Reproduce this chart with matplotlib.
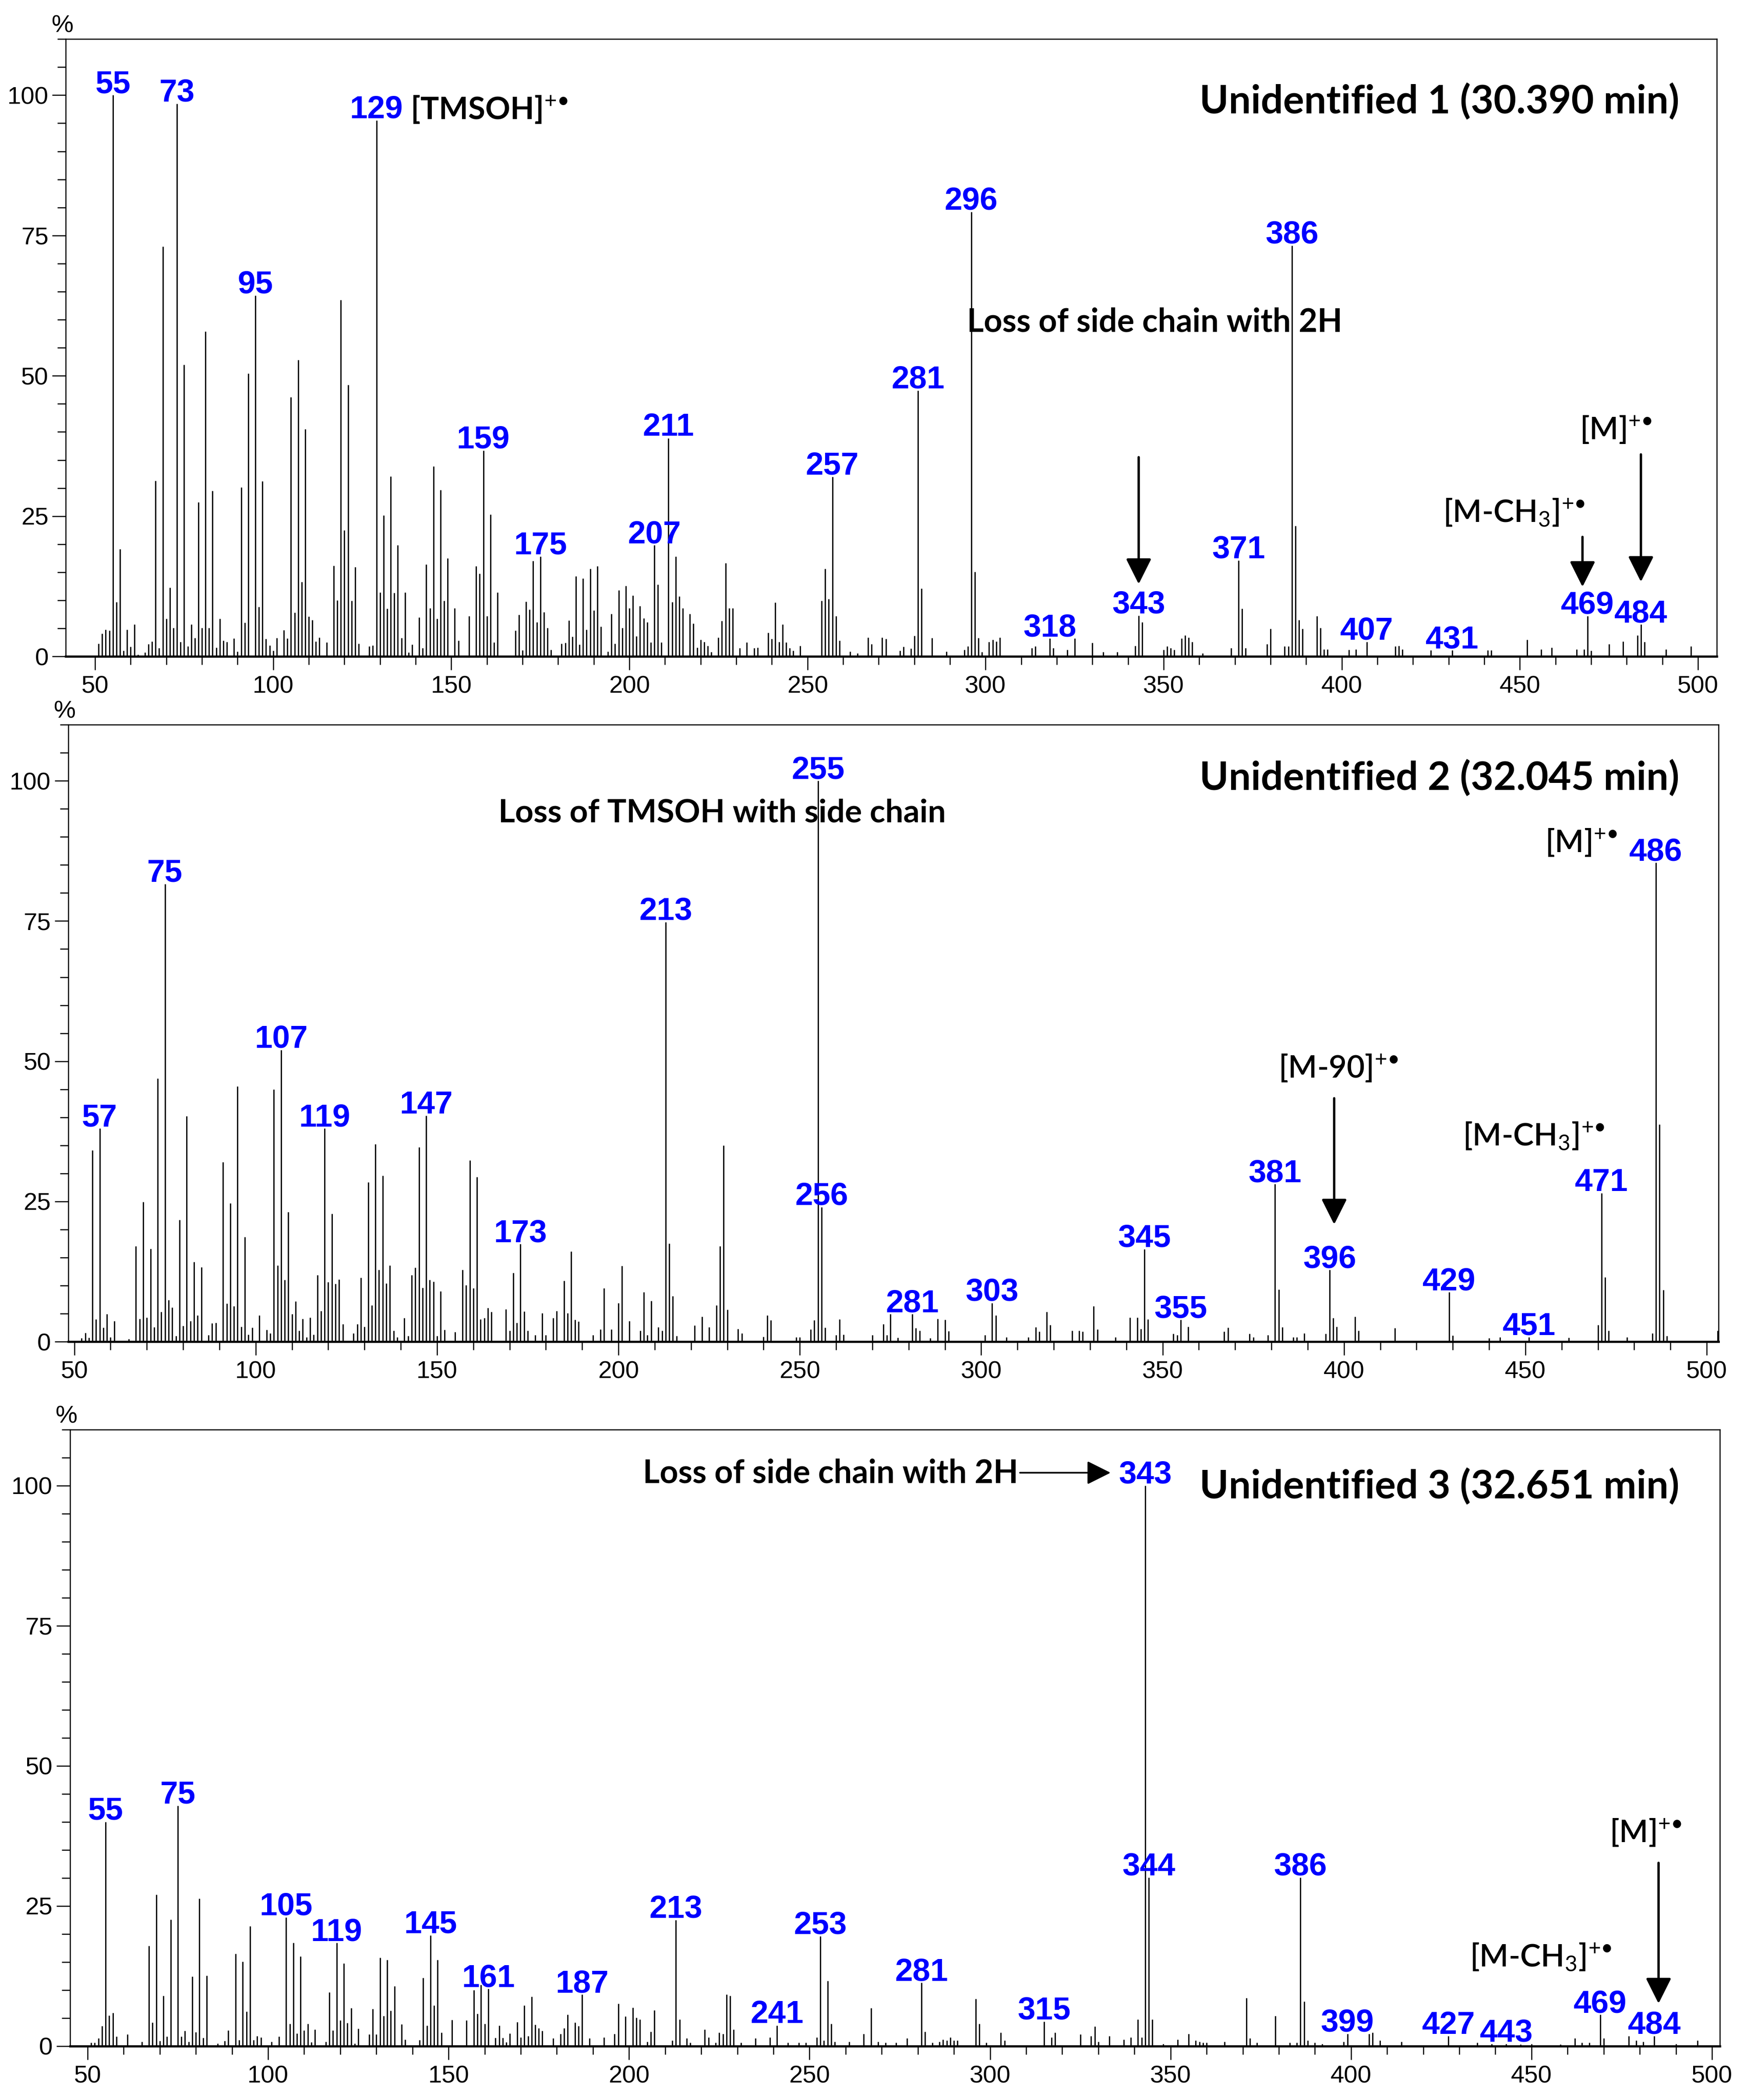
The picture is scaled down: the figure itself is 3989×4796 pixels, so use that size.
import matplotlib
matplotlib.use('Agg')
import matplotlib.pyplot as plt
from matplotlib.ticker import MultipleLocator

plt.rcParams['font.family'] = ['Liberation Sans', 'DejaVu Sans']
plt.rcParams['mathtext.fontset'] = 'custom'
plt.rcParams['mathtext.rm'] = 'Lato'
plt.rcParams['mathtext.it'] = 'Lato:italic'
plt.rcParams['mathtext.bf'] = 'Lato:bold'

# ---- Unidentified 1 (30.390 min) ----
mz1 = [51, 52, 53, 54, 55, 56, 57, 58, 59, 60,
       61, 62, 64, 65, 66, 67, 68, 69, 70, 71,
       72, 73, 74, 75, 76, 77, 78, 79, 80, 81,
       82, 83, 84, 85, 86, 87, 89, 90, 91, 92,
       93, 95, 96, 97, 98, 99, 100, 101, 103, 104,
       105, 106, 107, 108, 109, 110, 111, 112, 113, 115,
       117, 118, 119, 120, 121, 122, 123, 124, 127, 128,
       129, 130, 131, 132, 133, 134, 135, 136, 137, 138,
       139, 141, 142, 143, 144, 145, 146, 147, 148, 149,
       151, 152, 155, 157, 158, 159, 160, 161, 162, 163,
       168, 169, 170, 171, 172, 173, 174, 175, 176, 177,
       178, 181, 182, 183, 184, 185, 186, 187, 188, 189,
       190, 191, 192, 194, 195, 196, 197, 198, 199, 200,
       201, 202, 203, 204, 205, 206, 207, 208, 209, 211,
       212, 213, 214, 215, 217, 218, 219, 220, 221, 222,
       223, 225, 226, 227, 228, 229, 231, 233, 235, 236,
       239, 240, 241, 242, 243, 244, 245, 246, 248, 254,
       255, 256, 257, 258, 259, 262, 264, 267, 268, 271,
       272, 276, 277, 279, 280, 281, 282, 285, 289, 294,
       295, 296, 297, 298, 299, 301, 302, 303, 304, 313,
       314, 318, 319, 323, 325, 330, 333, 337, 342, 343,
       344, 350, 351, 352, 353, 355, 356, 357, 358, 361,
       369, 371, 372, 373, 379, 380, 384, 385, 386, 387,
       388, 389, 393, 394, 395, 396, 402, 404, 407, 415,
       416, 417, 425, 431, 441, 442, 452, 456, 459, 466,
       468, 469, 470, 475, 479, 483, 484, 485, 491, 498]
ab1 = [2.3, 4.1, 4.8, 4.6, 100, 9.7, 19.1, 1.0, 4.8, 1.7,
       5.7, 0.3, 0.7, 2.2, 2.7, 31.3, 1.5, 73.0, 6.7, 12.3,
       5.1, 98.5, 2.6, 52.0, 1.8, 5.7, 3.3, 27.5, 5.1, 57.9,
       5.1, 29.5, 1.6, 6.7, 2.8, 2.6, 3.2, 0.9, 30.1, 6.0,
       50.4, 64.3, 8.8, 31.2, 3.1, 2.0, 1.0, 3.3, 4.7, 3.2,
       46.2, 7.8, 52.8, 13.3, 40.5, 7.1, 6.5, 2.7, 3.4, 2.5,
       16.2, 10.0, 63.5, 22.5, 48.4, 9.9, 15.9, 2.3, 1.8, 2.0,
       95.5, 11.4, 25.1, 8.5, 32.1, 11.3, 19.8, 3.3, 11.4, 0.7,
       2.1, 7.0, 1.5, 16.4, 8.6, 33.9, 6.7, 29.7, 9.9, 17.5,
       8.6, 2.8, 7.2, 16.1, 14.8, 36.7, 7.2, 25.3, 2.5, 11.4,
       4.6, 7.4, 1.1, 9.8, 8.4, 17.0, 6.1, 17.8, 7.9, 5.1,
       1.2, 2.3, 2.4, 6.4, 3.5, 14.3, 2.1, 13.9, 4.8, 15.6,
       8.2, 16.1, 5.3, 0.9, 7.6, 2.3, 11.8, 5.1, 12.6, 8.6,
       10.9, 3.6, 9.0, 6.8, 6.1, 2.5, 19.8, 12.8, 2.5, 38.9,
       9.7, 17.8, 10.7, 8.6, 7.6, 5.9, 1.6, 3.0, 2.6, 1.9,
       0.8, 3.4, 6.3, 16.6, 8.6, 8.6, 1.5, 2.5, 1.5, 1.6,
       4.2, 3.1, 9.6, 2.6, 5.7, 2.5, 1.5, 1.0, 1.9, 9.9,
       15.6, 10.2, 32.0, 7.2, 2.8, 0.9, 0.6, 3.4, 2.2, 3.4,
       3.1, 1.0, 1.7, 1.4, 3.7, 47.4, 12.1, 3.3, 0.9, 1.2,
       1.8, 79.2, 15.1, 3.3, 0.8, 2.6, 3.0, 2.7, 3.4, 1.5,
       1.8, 3.2, 1.5, 1.2, 3.2, 2.4, 0.8, 0.8, 1.9, 7.3,
       6.1, 1.2, 1.8, 1.5, 1.2, 3.2, 3.8, 3.4, 2.6, 0.6,
       1.5, 17.1, 8.5, 1.5, 2.2, 4.9, 1.8, 1.8, 73.2, 23.3,
       6.5, 4.9, 7.2, 5.1, 1.3, 1.3, 1.2, 1.3, 2.6, 1.8,
       1.9, 1.3, 1.1, 1.1, 1.1, 1.1, 3.0, 1.3, 1.6, 1.3,
       1.3, 7.2, 1.0, 2.2, 2.7, 3.8, 5.7, 2.6, 1.3, 1.8]
lab1 = [55, 73, 95, 129, 159, 175, 207, 211, 257, 281, 296, 318,
        343, 371, 386, 407, 431, 469, 484]

# ---- Unidentified 2 (32.045 min) ----
mz2 = [52, 53, 54, 55, 56, 57, 58, 59, 60, 61,
       65, 67, 68, 69, 70, 71, 72, 73, 74, 75,
       76, 77, 78, 79, 80, 81, 82, 83, 84, 85,
       87, 88, 89, 91, 92, 93, 94, 95, 96, 97,
       98, 99, 101, 103, 104, 105, 106, 107, 108, 109,
       110, 111, 112, 113, 114, 115, 116, 117, 118, 119,
       120, 121, 122, 123, 124, 127, 128, 129, 130, 131,
       132, 133, 134, 135, 136, 137, 138, 139, 141, 142,
       143, 144, 145, 146, 147, 148, 149, 150, 151, 152,
       155, 157, 158, 159, 160, 161, 162, 163, 164, 165,
       169, 170, 171, 172, 173, 174, 175, 177, 179, 180,
       182, 183, 185, 186, 187, 188, 189, 193, 195, 196,
       198, 200, 201, 203, 206, 207, 208, 209, 211, 212,
       213, 214, 215, 216, 221, 223, 225, 227, 228, 229,
       230, 233, 234, 240, 241, 242, 249, 250, 253, 254,
       255, 256, 257, 260, 261, 262, 270, 273, 274, 275,
       277, 281, 282, 283, 286, 288, 290, 291, 301, 303,
       304, 307, 313, 315, 316, 318, 319, 325, 327, 328,
       331, 332, 337, 341, 343, 344, 345, 346, 353, 354,
       355, 357, 367, 368, 374, 375, 379, 381, 382, 383,
       386, 387, 389, 395, 396, 397, 398, 403, 404, 414,
       429, 430, 440, 443, 451, 462, 470, 471, 472, 473,
       478, 485, 486, 487, 488, 489, 503]
ab2 = [0.6, 1.6, 0.7, 34.1, 4.0, 38.0, 2.5, 4.9, 0.8, 3.7,
       0.5, 17.0, 4.1, 24.9, 4.3, 16.6, 2.6, 46.9, 5.3, 81.6,
       7.4, 6.1, 1.0, 21.7, 2.8, 40.2, 3.7, 14.2, 4.7, 13.3,
       1.2, 3.3, 3.4, 32.0, 6.8, 24.7, 6.3, 45.5, 2.7, 18.7,
       1.3, 2.5, 4.7, 2.1, 1.5, 45.0, 13.6, 52.0, 11.0, 23.1,
       4.9, 7.2, 2.0, 4.1, 0.8, 4.3, 1.3, 11.9, 5.5, 38.0,
       10.6, 22.8, 10.3, 11.1, 3.1, 1.5, 3.1, 11.4, 2.7, 28.4,
       6.5, 35.2, 12.8, 29.6, 10.4, 13.6, 2.0, 0.8, 4.2, 1.0,
       11.9, 13.2, 34.7, 9.6, 40.3, 11.0, 10.7, 1.0, 9.0, 2.1,
       1.7, 12.8, 10.1, 32.3, 9.5, 29.4, 4.0, 4.2, 6.0, 5.3,
       5.8, 2.0, 12.3, 3.4, 17.4, 5.4, 2.0, 1.2, 5.1, 1.2,
       4.2, 5.5, 10.9, 5.1, 16.1, 3.9, 3.6, 1.2, 2.2, 9.5,
       2.2, 6.9, 13.5, 3.7, 2.0, 8.8, 1.2, 7.3, 2.6, 2.0,
       74.8, 17.5, 8.1, 1.0, 2.9, 4.5, 2.6, 6.5, 17.0, 35.0,
       5.7, 2.3, 1.5, 0.9, 4.7, 3.8, 0.8, 0.8, 2.2, 3.8,
       100.0, 24.0, 2.5, 1.2, 4.0, 1.3, 1.2, 3.1, 1.2, 4.9,
       0.7, 4.9, 2.4, 2.0, 0.6, 4.1, 3.9, 1.9, 1.2, 6.9,
       4.7, 0.8, 0.8, 2.6, 1.8, 5.3, 3.0, 2.0, 2.0, 1.8,
       6.3, 2.2, 0.8, 4.3, 4.3, 2.3, 16.5, 4.0, 1.4, 1.2,
       3.9, 2.7, 1.8, 2.5, 1.4, 0.8, 1.2, 28.1, 9.3, 2.6,
       0.8, 0.8, 1.5, 1.4, 12.8, 4.2, 2.7, 4.5, 2.0, 2.4,
       8.8, 1.1, 0.6, 0.8, 0.8, 0.7, 3.0, 26.5, 11.5, 2.0,
       0.8, 1.5, 85.4, 38.7, 9.2, 1.0, 2.0]
lab2 = [57, 75, 107, 119, 147, 173, 213, 255, 256, 281, 303, 345,
        355, 381, 396, 429, 451, 471, 486]

# ---- Unidentified 3 (32.651 min) ----
mz3 = [51, 52, 53, 54, 55, 56, 57, 58, 61, 65,
       67, 68, 69, 70, 71, 72, 73, 75, 76, 77,
       78, 79, 80, 81, 82, 83, 86, 88, 89, 91,
       92, 93, 94, 95, 96, 97, 98, 101, 103, 105,
       106, 107, 108, 109, 110, 111, 112, 113, 116, 117,
       118, 119, 120, 121, 122, 123, 124, 125, 128, 129,
       130, 131, 132, 133, 134, 135, 137, 138, 142, 143,
       144, 145, 146, 147, 148, 151, 155, 157, 158, 159,
       160, 161, 163, 164, 165, 166, 167, 169, 170, 171,
       172, 173, 174, 175, 176, 179, 181, 182, 183, 185,
       186, 187, 189, 193, 196, 197, 199, 201, 202, 203,
       205, 206, 207, 212, 213, 214, 216, 217, 221, 222,
       224, 225, 226, 227, 228, 229, 231, 235, 239, 241,
       244, 247, 249, 252, 253, 254, 255, 256, 257, 261,
       265, 267, 269, 271, 274, 277, 281, 282, 284, 286,
       287, 288, 289, 290, 291, 296, 297, 299, 303, 304,
       315, 317, 318, 325, 328, 329, 330, 333, 337, 339,
       341, 342, 343, 344, 345, 348, 352, 355, 357, 358,
       359, 360, 365, 371, 372, 374, 379, 383, 385, 386,
       387, 388, 390, 392, 398, 399, 405, 406, 408, 414,
       427, 435, 439, 443, 447, 450, 458, 462, 464, 466,
       469, 470, 477, 479, 481, 484, 490, 496]
ab3 = [0.6, 0.6, 1.4, 3.6, 40.0, 5.5, 5.9, 1.7, 2.1, 0.8,
       17.9, 4.2, 27.0, 0.9, 9.0, 1.7, 22.6, 42.9, 1.7, 2.7,
       0.8, 12.4, 2.5, 26.3, 1.5, 12.6, 0.5, 0.9, 2.8, 16.5,
       1.1, 15.1, 6.2, 21.4, 1.1, 1.8, 1.6, 0.8, 1.7, 23.0,
       4.0, 18.4, 2.3, 16.0, 2.8, 4.0, 0.7, 3.0, 0.8, 9.6,
       2.8, 18.4, 4.6, 14.8, 4.1, 6.8, 0.5, 3.1, 2.1, 6.6,
       2.1, 15.8, 5.4, 15.4, 6.3, 10.7, 3.9, 1.2, 1.1, 12.2,
       3.7, 19.8, 7.3, 15.4, 2.4, 4.7, 4.6, 10.0, 5.8, 10.9,
       4.0, 10.2, 1.5, 3.7, 1.5, 0.7, 2.3, 4.3, 1.6, 7.3,
       1.8, 8.8, 3.8, 3.2, 2.7, 1.4, 2.2, 3.2, 5.6, 4.2,
       3.6, 9.2, 1.4, 1.6, 2.2, 7.6, 5.3, 6.9, 5.1, 4.8,
       0.8, 2.6, 6.4, 1.0, 22.5, 4.8, 1.4, 0.6, 3.0, 1.6,
       0.6, 2.4, 2.2, 9.2, 9.0, 3.0, 0.6, 1.4, 1.6, 3.7,
       0.6, 0.6, 0.6, 1.6, 19.6, 1.0, 11.6, 4.0, 0.8, 0.8,
       2.2, 6.8, 0.8, 0.6, 0.6, 1.4, 11.3, 2.6, 0.6, 0.8,
       1.2, 1.0, 1.6, 1.0, 1.0, 8.4, 4.0, 0.6, 2.4, 1.0,
       4.4, 1.6, 2.4, 2.1, 1.8, 3.5, 0.8, 1.8, 1.2, 1.6,
       4.8, 1.6, 100.0, 30.1, 4.8, 0.4, 1.2, 2.2, 1.0, 0.8,
       0.6, 0.6, 0.8, 8.6, 1.4, 0.6, 5.4, 0.6, 0.6, 30.1,
       8.0, 1.0, 0.6, 0.4, 0.8, 2.2, 2.2, 2.4, 1.0, 0.8,
       1.8, 0.6, 0.4, 0.4, 0.3, 0.4, 0.3, 1.4, 0.6, 0.6,
       5.6, 1.4, 1.8, 1.0, 0.8, 1.8, 0.4, 1.0]
lab3 = [55, 75, 105, 119, 145, 161, 187, 213, 241, 253, 281, 315,
        343, 344, 386, 399, 427, 443, 469, 484]

titles = ['Unidentified 1 (30.390 min)', 'Unidentified 2 (32.045 min)',
          'Unidentified 3 (32.651 min)']

BLUE = '#0000ff'
ANN = 'Lato'


def spectrum(ax, mz, ab, labels, xlim, title, tx, ty):
    ax.vlines(mz, 0, ab, colors='k', lw=0.7)
    for m in labels:
        h = ab[mz.index(m)]
        ax.text(m, h + 0.4, str(m), color=BLUE, fontsize=17.5, fontweight='bold',
                ha='center', va='baseline')
    ax.set_xlim(xlim)
    ax.set_ylim(0, 110)
    ax.xaxis.set_major_locator(MultipleLocator(50))
    ax.xaxis.set_minor_locator(MultipleLocator(10))
    ax.set_yticks([0, 25, 50, 75, 100])
    ax.yaxis.set_minor_locator(MultipleLocator(5))
    ax.tick_params(which='major', length=7.5, width=0.6, labelsize=13.5, pad=3)
    ax.tick_params(which='minor', length=4.5, width=0.6)
    ax.tick_params(axis='y', pad=2)
    for s in ax.spines.values():
        s.set_linewidth(0.6)
    ax.spines['bottom'].set_linewidth(1.2)
    ax.text(-0.002, 1.021, '%', transform=ax.transAxes, ha='center', va='center',
            fontsize=13.5)
    ax.text(tx, ty, title, transform=ax.get_yaxis_transform(), ha='right',
            va='baseline', fontsize=21.5, fontweight='bold', family=ANN)


def arrow(ax, x0, y0, x1, y1, lw=1.3, ms=30):
    ax.annotate('', xy=(x1, y1), xytext=(x0, y0),
                arrowprops=dict(arrowstyle='-|>', color='k', lw=lw,
                                mutation_scale=ms, shrinkA=0, shrinkB=0))


fig = plt.figure(figsize=(3989 / 300, 4796 / 300), dpi=300)
ax1 = fig.add_axes([0.0377, 0.6874, 0.9450, 0.2940])
ax2 = fig.add_axes([0.0390, 0.3611, 0.9446, 0.2938])
ax3 = fig.add_axes([0.0400, 0.02565, 0.9445, 0.2936])

spectrum(ax1, mz1, ab1, lab1, (41.8, 505.3), titles[0], 0.9774, 96.7)
spectrum(ax2, mz2, ab2, lab2, (48.3, 503.2), titles[1], 0.9764, 98.3)
spectrum(ax3, mz3, ab3, lab3, (45.1, 502.2), titles[2], 0.9755, 97.7)

# panel 1 annotations
ax1.text(138.5, 95.7, '[TMSOH]$^{+•}$', fontsize=17, fontweight='bold', family=ANN,
         ha='left', va='baseline')
ax1.text(347.5, 57.9, 'Loss of side chain with 2H', fontsize=17.7, fontweight='bold',
         family=ANN, ha='center', va='baseline')
ax1.text(466.8, 38.6, '[M]$^{+•}$', fontsize=17, fontweight='semibold', family=ANN,
         ha='left', va='baseline')
ax1.text(428.4, 24.0, '[M-CH$_3$]$^{+•}$', fontsize=17, fontweight='semibold',
         family=ANN, ha='left', va='baseline')
arrow(ax1, 343, 35.5, 343, 12.9)
arrow(ax1, 467.6, 21.3, 467.6, 12.4)
arrow(ax1, 484, 36.0, 484, 13.3)

# panel 2 annotations
ax2.text(228.6, 92.6, 'Loss of TMSOH with side chain', fontsize=17.6,
         fontweight='bold', family=ANN, ha='center', va='baseline')
ax2.text(455.5, 87.2, '[M]$^{+•}$', fontsize=17, fontweight='semibold', family=ANN,
         ha='left', va='baseline')
ax2.text(381.9, 47.0, '[M-90]$^{+•}$', fontsize=17, fontweight='semibold', family=ANN,
         ha='left', va='baseline')
ax2.text(432.7, 35.0, '[M-CH$_3$]$^{+•}$', fontsize=17, fontweight='semibold',
         family=ANN, ha='left', va='baseline')
arrow(ax2, 397.3, 43.4, 397.3, 20.9)

# panel 3 annotations
ax3.text(307.8, 100.5, 'Loss of side chain with 2H', fontsize=17.7, fontweight='bold',
         family=ANN, ha='right', va='baseline')
arrow(ax3, 308.3, 102.3, 333.4, 102.3, lw=0.9, ms=28)
ax3.text(471.6, 36.3, '[M]$^{+•}$', fontsize=17, fontweight='semibold', family=ANN,
         ha='left', va='baseline')
ax3.text(432.9, 14.2, '[M-CH$_3$]$^{+•}$', fontsize=17, fontweight='semibold',
         family=ANN, ha='left', va='baseline')
arrow(ax3, 485.2, 32.7, 485.2, 7.6)

fig.savefig('out.png', dpi=300)
